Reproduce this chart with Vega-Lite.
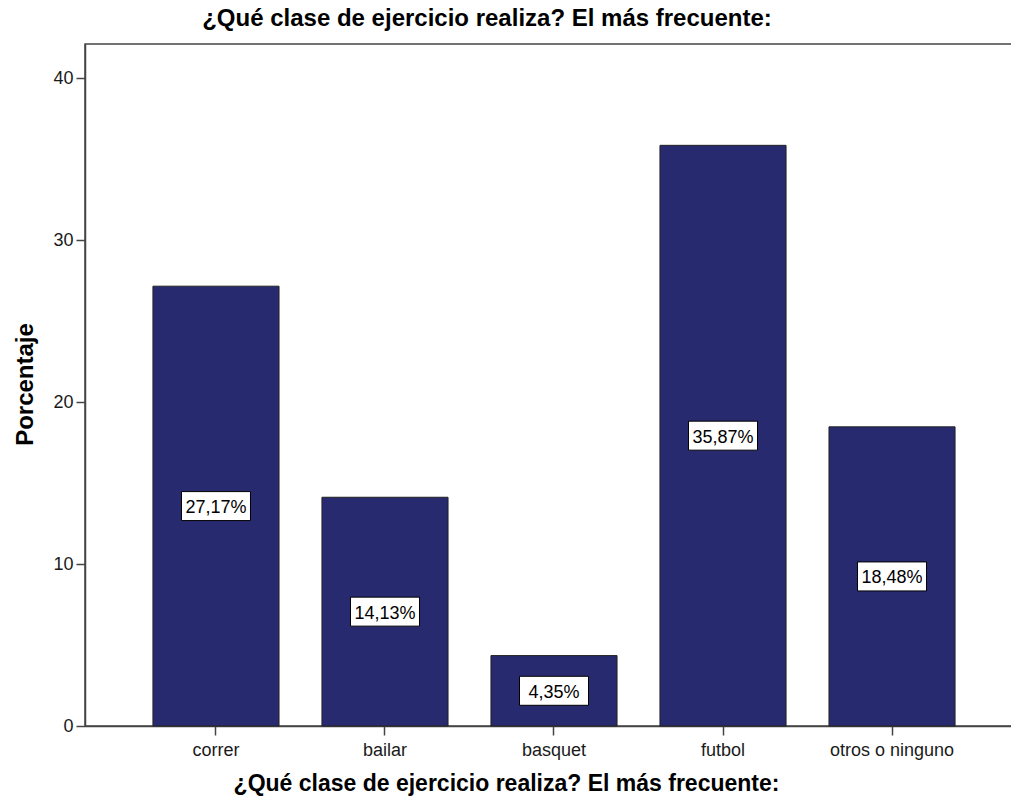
{
  "$schema": "https://vega.github.io/schema/vega-lite/v6.json",
  "autosize": "none",
  "width": 938,
  "height": 682,
  "padding": {"left": 85, "top": 44, "right": 0, "bottom": 77},
  "background": "white",
  "config": {
    "font": "Liberation Sans",
    "view": {"stroke": "#444444", "strokeWidth": 1.5}
  },
  "title": {
    "text": "¿Qué clase de ejercicio realiza? El más frecuente:",
    "font": "Liberation Sans",
    "fontSize": 24,
    "fontWeight": "bold",
    "color": "#000000",
    "anchor": "middle",
    "frame": "group",
    "dx": -67,
    "offset": -6,
    "baseline": "alphabetic"
  },
  "data": {
    "values": [
      {"categoria": "correr", "porcentaje": 27.17, "etiqueta": "27,17%"},
      {"categoria": "bailar", "porcentaje": 14.13, "etiqueta": "14,13%"},
      {"categoria": "basquet", "porcentaje": 4.35, "etiqueta": "4,35%"},
      {"categoria": "futbol", "porcentaje": 35.87, "etiqueta": "35,87%"},
      {"categoria": "otros o ninguno", "porcentaje": 18.48, "etiqueta": "18,48%"}
    ]
  },
  "encoding": {
    "x": {
      "field": "categoria",
      "type": "nominal",
      "sort": null,
      "scale": {"paddingInner": 0.254, "paddingOuter": 0.402},
      "axis": {
        "title": "¿Qué clase de ejercicio realiza? El más frecuente:",
        "titleFont": "Liberation Sans",
        "titleFontSize": 23,
        "titleFontWeight": "bold",
        "titleColor": "#000000",
        "titleX": 421,
        "titleY": 57,
        "titleAnchor": "middle",
        "titleAlign": "center",
        "titleBaseline": "middle",
        "labelAngle": 0,
        "labelFont": "Liberation Sans",
        "labelFontSize": 18,
        "labelColor": "#1a1a1a",
        "labelPadding": 6,
        "tickSize": 9,
        "tickColor": "#444444",
        "tickWidth": 1.5,
        "domainColor": "#444444",
        "domainWidth": 1.5
      }
    }
  },
  "layer": [
    {
      "mark": {"type": "bar", "color": "#282A6F", "stroke": "#222222", "strokeWidth": 1},
      "encoding": {
        "y": {
          "field": "porcentaje",
          "type": "quantitative",
          "scale": {"domain": [0, 42.13], "nice": false, "zero": true},
          "axis": {
            "title": "Porcentaje",
            "titleFont": "Liberation Sans",
            "titleFontSize": 24,
            "titleFontWeight": "bold",
            "titleColor": "#000000",
            "titleAngle": -90,
            "titleX": -60,
            "titleY": 340,
            "titleAlign": "center",
            "titleBaseline": "middle",
            "values": [0, 10, 20, 30, 40],
            "grid": false,
            "labelFont": "Liberation Sans",
            "labelFontSize": 18,
            "labelColor": "#1a1a1a",
            "labelPadding": 3,
            "tickSize": 9,
            "tickColor": "#444444",
            "tickWidth": 1.5,
            "domainColor": "#444444",
            "domainWidth": 1.5
          }
        }
      }
    },
    {
      "mark": {"type": "tick", "orient": "horizontal", "thickness": 29, "fill": "white", "stroke": "#000000", "strokeWidth": 1, "opacity": 1},
      "encoding": {
        "y": {
          "field": "porcentaje",
          "type": "quantitative",
          "scale": {"domain": [0, 84.26], "nice": false, "zero": true},
          "axis": null
        },
        "size": {
          "field": "categoria",
          "type": "nominal",
          "scale": {
            "domain": ["correr", "bailar", "basquet", "futbol", "otros o ninguno"],
            "range": [69, 69, 57, 69, 69]
          },
          "legend": null
        }
      }
    },
    {
      "mark": {"type": "text", "font": "Liberation Sans", "fontSize": 18, "color": "#000000", "baseline": "middle", "align": "center", "dy": 2},
      "encoding": {
        "y": {
          "field": "porcentaje",
          "type": "quantitative",
          "scale": {"domain": [0, 84.26], "nice": false, "zero": true},
          "axis": null
        },
        "text": {"field": "etiqueta", "type": "nominal"}
      }
    }
  ],
  "resolve": {"scale": {"y": "independent", "size": "independent"}}
}
